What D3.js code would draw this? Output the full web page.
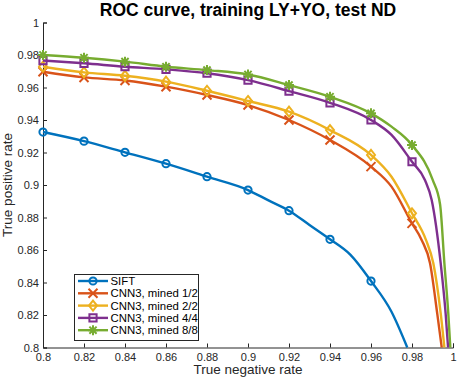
<!DOCTYPE html>
<html>
<head>
<meta charset="utf-8">
<script src="https://cdn.jsdelivr.net/npm/d3@7"></script>
<style>
  body { margin: 0; background: #fff; }
  svg { display: block; font-family: "Liberation Sans", Arial, sans-serif; }
</style>
</head>
<body>
<svg id="chart" width="457" height="378"></svg>
<script>
// ROC curves, x = true negative rate, y = true positive rate
const seriesNames = ['SIFT', 'CNN3, mined 1/2', 'CNN3, mined 2/2', 'CNN3, mined 4/4', 'CNN3, mined 8/8'];
const seriesColors = ['#0072BD', '#D95319', '#EDB120', '#7E2F8E', '#77AC30'];
const seriesMarkers = ['circle', 'cross', 'diamond', 'square', 'asterisk'];

const siftX = [0.80, 0.82, 0.84, 0.86, 0.88, 0.90, 0.91, 0.92, 0.93, 0.94, 0.95, 0.96, 0.97, 0.9777];
const siftY = [0.9326, 0.9270, 0.9201, 0.9131, 0.9051, 0.8969, 0.8905, 0.8842, 0.8754, 0.8666, 0.857, 0.8409, 0.822, 0.80];

const mined12X = [0.80, 0.82, 0.84, 0.86, 0.88, 0.90, 0.92, 0.94, 0.96, 0.97, 0.98, 0.9847, 0.9888, 0.9923, 0.9945];
const mined12Y = [0.9697, 0.9662, 0.9643, 0.9605, 0.9554, 0.9492, 0.940, 0.9277, 0.9113, 0.899, 0.8764, 0.8662, 0.8518, 0.821, 0.80];

const mined22X = [0.80, 0.82, 0.84, 0.86, 0.88, 0.90, 0.92, 0.94, 0.96, 0.97, 0.98, 0.9868, 0.9904, 0.994, 0.9958];
const mined22Y = [0.9728, 0.9693, 0.9672, 0.9636, 0.958, 0.9517, 0.9451, 0.9338, 0.9185, 0.9051, 0.8826, 0.8662, 0.8518, 0.821, 0.80];

const mined44X = [0.80, 0.82, 0.84, 0.86, 0.88, 0.90, 0.92, 0.94, 0.96, 0.97, 0.98, 0.9863, 0.9896, 0.994, 0.9964, 0.9976];
const mined44Y = [0.9766, 0.9749, 0.9728, 0.9712, 0.9688, 0.9645, 0.9578, 0.9506, 0.940, 0.9308, 0.9143, 0.9031, 0.8908, 0.8518, 0.821, 0.80];

const mined88X = [0.80, 0.82, 0.84, 0.86, 0.88, 0.90, 0.92, 0.94, 0.96, 0.97, 0.98, 0.9901, 0.9937, 0.9958, 0.9977, 0.9987];
const mined88Y = [0.980, 0.9783, 0.9759, 0.9728, 0.9707, 0.968, 0.9615, 0.9543, 0.9441, 0.9359, 0.9246, 0.9031, 0.8880, 0.8518, 0.821, 0.80];

const tickValues = [0.8, 0.82, 0.84, 0.86, 0.88, 0.9, 0.92, 0.94, 0.96, 0.98, 1];

const seriesX = [siftX, mined12X, mined22X, mined44X, mined88X];
const seriesY = [siftY, mined12Y, mined22Y, mined44Y, mined88Y];

const series = seriesNames.map((name, i) => ({
    name: name,
    color: seriesColors[i],
    marker: seriesMarkers[i],
    points: seriesX[i].map((x, j) => ({x: x, y: seriesY[i][j]}))
}));

const svg = d3.select('#chart');
const ink = '#262626';
const margin = {left: 43, right: 4, top: 22.5, bottom: 30.5};
const width = 457, height = 378;

const x = d3.scaleLinear().domain([0.8, 1]).range([margin.left, width - margin.right]);
const y = d3.scaleLinear().domain([0.8, 1]).range([height - margin.bottom, margin.top]);

// markers, MATLAB style (unfilled)
function markerPath(type) {
    const p = d3.path();
    if (type === 'circle') {
        p.arc(0, 0, 3.6, 0, 2 * Math.PI);
    } else if (type === 'square') {
        p.rect(-3.6, -3.6, 7.2, 7.2);
    } else if (type === 'diamond') {
        p.moveTo(0, -5); p.lineTo(4, 0); p.lineTo(0, 5); p.lineTo(-4, 0); p.closePath();
    } else if (type === 'cross') {
        p.moveTo(-4.5, -4.5); p.lineTo(4.5, 4.5);
        p.moveTo(-4.5, 4.5); p.lineTo(4.5, -4.5);
    } else if (type === 'asterisk') {
        p.moveTo(-5, 0); p.lineTo(5, 0);
        p.moveTo(0, -5); p.lineTo(0, 5);
        p.moveTo(-3.6, -3.6); p.lineTo(3.6, 3.6);
        p.moveTo(-3.6, 3.6); p.lineTo(3.6, -3.6);
    }
    return p.toString();
}

const onGrid = v => Math.abs(v * 50 - Math.round(v * 50)) < 1e-6;

// axes
const xAxis = d3.axisBottom(x).tickValues(tickValues).tickSize(-4).tickPadding(6)
    .tickFormat(d => d3.format('~g')(d));
const yAxis = d3.axisLeft(y).tickValues(tickValues).tickSize(-4).tickPadding(4)
    .tickFormat(d => d3.format('~g')(d));

const gx = svg.append('g')
    .attr('transform', `translate(0,${height - margin.bottom})`)
    .call(xAxis);
const gy = svg.append('g')
    .attr('transform', `translate(${margin.left},0)`)
    .call(yAxis);

[gx, gy].forEach(g => {
    g.select('.domain').attr('stroke', ink).attr('stroke-width', 1);
    g.selectAll('.tick line').attr('stroke', ink);
    g.selectAll('.tick text').attr('fill', ink).style('font-size', '11px')
        .style('font-family', '"Liberation Sans", Arial, sans-serif');
});
gx.selectAll('.tick text').attr('dy', '0.72em');

// curves
const line = d3.line().x(d => x(d.x)).y(d => y(d.y)).curve(d3.curveMonotoneX);
const plot = svg.append('g');

series.forEach(s => {
    plot.append('path')
        .datum(s.points)
        .attr('fill', 'none')
        .attr('stroke', s.color)
        .attr('stroke-width', 2.4)
        .attr('stroke-linejoin', 'round')
        .attr('d', line);

    plot.selectAll(null)
        .data(s.points.filter(d => onGrid(d.x)))
        .enter().append('path')
        .attr('transform', d => `translate(${x(d.x)},${y(d.y)})`)
        .attr('d', markerPath(s.marker))
        .attr('fill', 'none')
        .attr('stroke', s.color)
        .attr('stroke-width', 2);
});

// title and labels
svg.append('text')
    .attr('x', (x(0.8) + x(1)) / 2)
    .attr('y', 15.5)
    .attr('text-anchor', 'middle')
    .style('font-size', '17.5px')
    .style('font-weight', 'bold')
    .attr('fill', '#000')
    .text('ROC curve, training LY+YO, test ND');

svg.append('text')
    .attr('x', (x(0.8) + x(1)) / 2)
    .attr('y', 374)
    .attr('text-anchor', 'middle')
    .style('font-size', '13.5px')
    .attr('fill', ink)
    .text('True negative rate');

svg.append('text')
    .attr('transform', `translate(12,${(y(0.8) + y(1)) / 2}) rotate(-90)`)
    .attr('text-anchor', 'middle')
    .style('font-size', '13.5px')
    .attr('fill', ink)
    .text('True positive rate');

// legend
const legend = svg.append('g');
legend.append('rect')
    .attr('x', 74.5).attr('y', 274.5)
    .attr('width', 124).attr('height', 66)
    .attr('fill', '#fff')
    .attr('stroke', ink)
    .attr('stroke-width', 1);

series.forEach((s, i) => {
    const ly = 281 + i * 12.3;
    legend.append('line')
        .attr('x1', 78).attr('x2', 108)
        .attr('y1', ly).attr('y2', ly)
        .attr('stroke', s.color).attr('stroke-width', 2.4);
    legend.append('path')
        .attr('transform', `translate(93,${ly})`)
        .attr('d', markerPath(s.marker))
        .attr('fill', 'none')
        .attr('stroke', s.color)
        .attr('stroke-width', 2);
    legend.append('text')
        .attr('x', 110.5)
        .attr('y', ly + 4)
        .style('font-size', '11.4px')
        .attr('fill', '#000')
        .text(s.name);
});
</script>
</body>
</html>
